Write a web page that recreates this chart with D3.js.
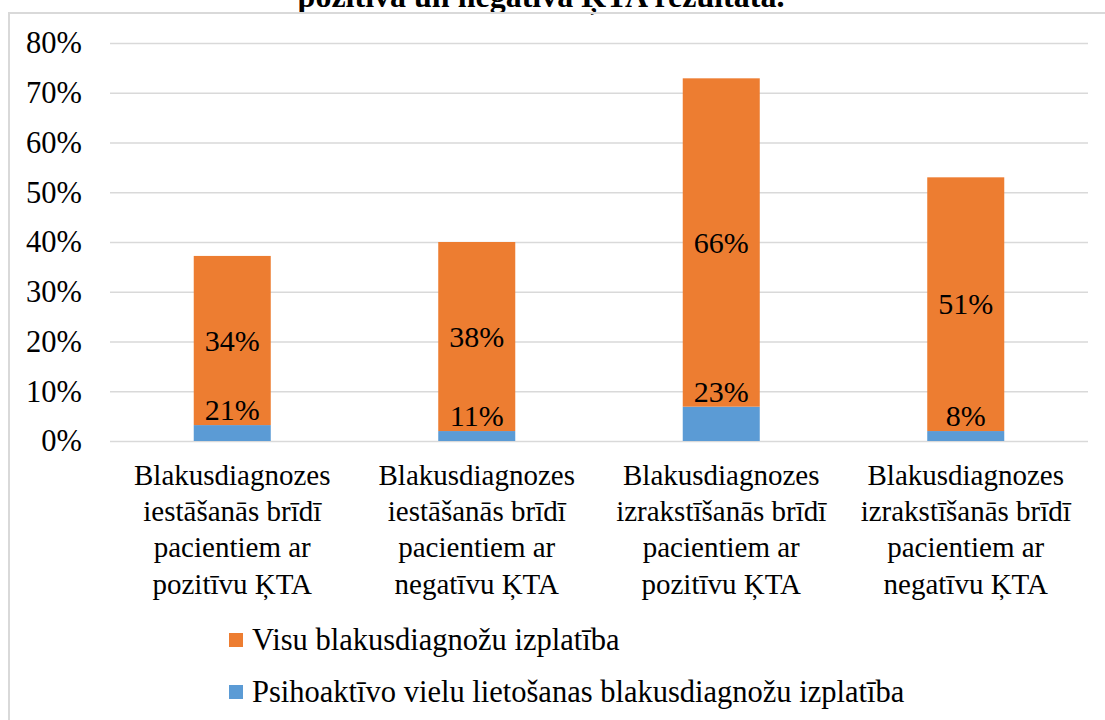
<!DOCTYPE html>
<html>
<head>
    <meta charset="utf-8">
    <title>Blakusdiagnožu izplatība</title>
    <script src="https://d3js.org/d3.v7.min.js"></script>
    <style>
        body { margin: 0; background: #fff; }
        svg text { font-family: "Liberation Serif", "Times New Roman", serif; fill: #000; }
    </style>
</head>
<body>
<div id="chart"></div>
<script>
    // categories (one line per label row)
    var categories = [
        ["Blakusdiagnozes", "iestāšanās brīdī", "pacientiem ar", "pozitīvu ĶTA"],
        ["Blakusdiagnozes", "iestāšanās brīdī", "pacientiem ar", "negatīvu ĶTA"],
        ["Blakusdiagnozes", "izrakstīšanās brīdī", "pacientiem ar", "pozitīvu ĶTA"],
        ["Blakusdiagnozes", "izrakstīšanās brīdī", "pacientiem ar", "negatīvu ĶTA"]
    ];

    // series values (stacked: blue at bottom, orange on top)
    var bluePart   = [0.032, 0.020, 0.069, 0.020];
    var orangePart = [0.34, 0.38, 0.66, 0.51];

    // data label texts as printed on the chart
    var blueLabels   = ["21%", "11%", "23%", "8%"];
    var orangeLabels = ["34%", "38%", "66%", "51%"];

    var yTicks = [0, 0.1, 0.2, 0.3, 0.4, 0.5, 0.6, 0.7, 0.8];

    var seriesNames = ["Visu blakusdiagnožu izplatība", "Psihoaktīvo vielu lietošanas blakusdiagnožu izplatība"];
    var seriesColors = ["#ED7D31", "#5B9BD5"];

    var titleText = "pozitīva un negatīva ĶTA rezultātā.";

    var FONT = '"Liberation Serif", "Times New Roman", serif';

    var W = 1105, H = 720;
    var margin = {top: 43, right: 17, bottom: 279, left: 110};
    var width = W - margin.left - margin.right,
        height = H - margin.top - margin.bottom;

    var svg = d3.select("#chart")
        .append("svg")
        .attr("width", W)
        .attr("height", H);

    // title, cut off at the top as in the source
    svg.append("text")
        .attr("x", 541)
        .attr("y", 7)
        .attr("text-anchor", "middle")
        .style("font-family", FONT)
        .style("font-size", "32px")
        .style("font-weight", "bold")
        .text(titleText);

    // chart area border
    svg.append("rect")
        .attr("x", 9)
        .attr("y", 13)
        .attr("width", W + 20)
        .attr("height", H + 20)
        .attr("fill", "none")
        .attr("stroke", "#d9d9d9")
        .attr("stroke-width", 2);

    var g = svg.append("g")
        .attr("transform", "translate(" + margin.left + "," + margin.top + ")");

    var idx = d3.range(categories.length);

    var x = d3.scaleBand()
        .domain(idx)
        .range([0, width])
        .paddingInner(0.685)
        .paddingOuter(0.3425);

    var y = d3.scaleLinear()
        .domain([0, 0.8])
        .range([height, 0]);

    // y axis + gridlines
    var yAxis = g.append("g")
        .attr("font-family", FONT)
        .call(d3.axisLeft(y)
            .tickValues(yTicks)
            .tickFormat(d3.format(".0%"))
            .tickSize(-width)
            .tickPadding(28));
    yAxis.select(".domain").remove();
    yAxis.selectAll(".tick line")
        .attr("stroke", "#d9d9d9")
        .attr("stroke-width", 1.6);
    yAxis.selectAll(".tick text")
        .style("font-family", FONT)
        .style("font-size", "30.5px")
        .attr("fill", "#000");

    // stacked bars
    g.selectAll(".bar-blue")
        .data(idx)
        .enter()
        .append("rect")
        .attr("class", "bar-blue")
        .attr("x", function(i) { return x(i); })
        .attr("y", function(i) { return y(bluePart[i]); })
        .attr("width", x.bandwidth())
        .attr("height", function(i) { return y(0) - y(bluePart[i]); })
        .attr("fill", seriesColors[1]);

    g.selectAll(".bar-orange")
        .data(idx)
        .enter()
        .append("rect")
        .attr("class", "bar-orange")
        .attr("x", function(i) { return x(i); })
        .attr("y", function(i) { return y(bluePart[i] + orangePart[i]); })
        .attr("width", x.bandwidth())
        .attr("height", function(i) { return y(bluePart[i]) - y(bluePart[i] + orangePart[i]); })
        .attr("fill", seriesColors[0]);

    // data labels
    g.selectAll(".lab-orange")
        .data(idx)
        .enter()
        .append("text")
        .attr("x", function(i) { return x(i) + x.bandwidth() / 2; })
        .attr("y", function(i) { return (y(bluePart[i]) + y(bluePart[i] + orangePart[i])) / 2; })
        .attr("dy", "0.34em")
        .attr("text-anchor", "middle")
        .style("font-family", FONT)
        .style("font-size", "30px")
        .text(function(i) { return orangeLabels[i]; });

    g.selectAll(".lab-blue")
        .data(idx)
        .enter()
        .append("text")
        .attr("x", function(i) { return x(i) + x.bandwidth() / 2; })
        .attr("y", function(i) { return y(bluePart[i]) - 15; })
        .attr("dy", "0.34em")
        .attr("text-anchor", "middle")
        .style("font-family", FONT)
        .style("font-size", "30px")
        .text(function(i) { return blueLabels[i]; });

    // x axis with multi-line labels
    var xAxis = g.append("g")
        .attr("transform", "translate(0," + height + ")")
        .call(d3.axisBottom(x).tickSize(0).tickFormat(""));
    xAxis.select(".domain").remove();
    xAxis.selectAll(".tick text").remove();
    xAxis.selectAll(".tick")
        .append("text")
        .attr("text-anchor", "middle")
        .style("font-family", FONT)
        .style("font-size", "29px")
        .attr("fill", "#000")
        .selectAll("tspan")
        .data(function(i) { return categories[i]; })
        .enter()
        .append("tspan")
        .attr("x", 0)
        .attr("y", function(d, k) { return 44 + k * 36.2; })
        .text(function(d) { return d; });

    // legend
    var legend = svg.append("g")
        .attr("transform", "translate(229,633)");
    var items = legend.selectAll("g")
        .data(seriesNames)
        .enter()
        .append("g")
        .attr("transform", function(d, k) { return "translate(0," + k * 52 + ")"; });
    items.append("rect")
        .attr("width", 14)
        .attr("height", 14)
        .attr("fill", function(d, k) { return seriesColors[k]; });
    items.append("text")
        .attr("x", 23)
        .attr("y", 7)
        .attr("dy", "0.34em")
        .style("font-family", FONT)
        .style("font-size", "30.5px")
        .text(function(d) { return d; });
</script>
</body>
</html>
